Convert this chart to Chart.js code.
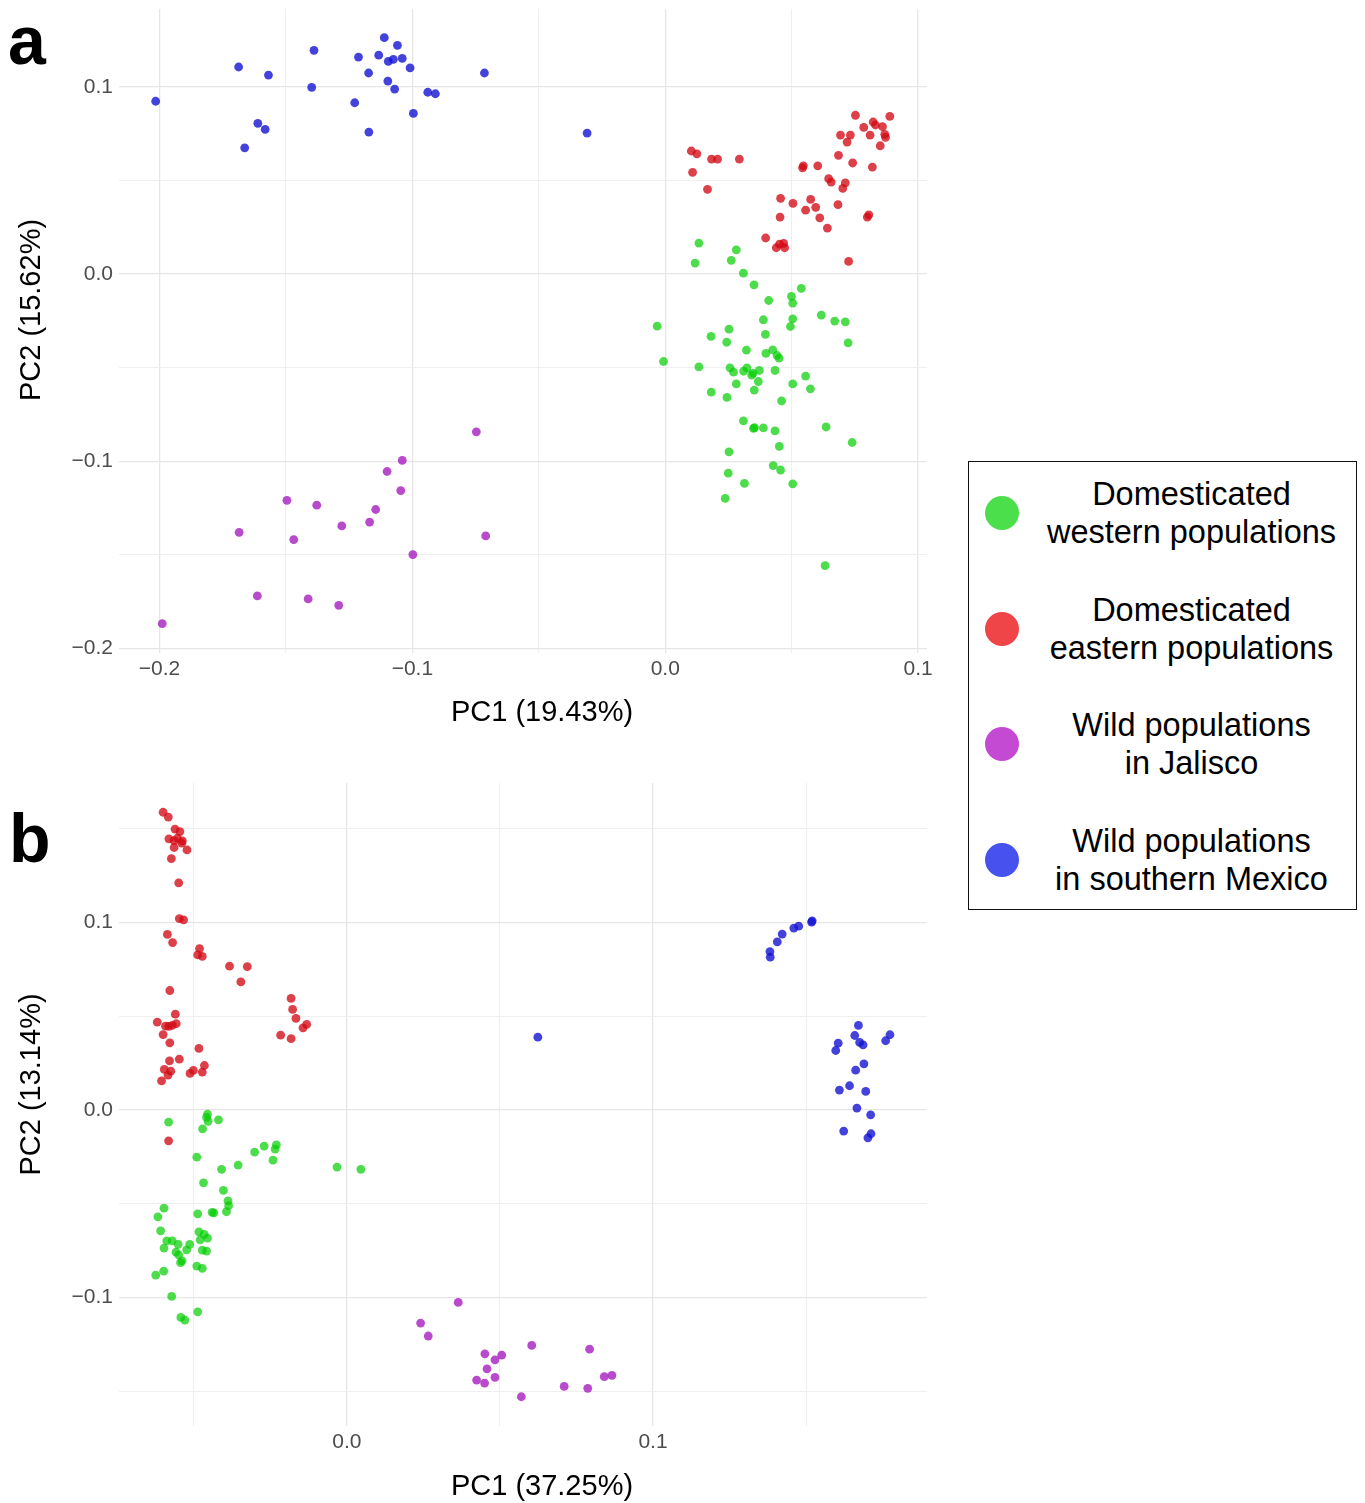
<!DOCTYPE html>
<html>
<head>
<meta charset="utf-8">
<title>PCA of populations</title>
<script src="https://cdn.jsdelivr.net/npm/chart.js@4.4.1/dist/chart.umd.min.js"></script>
<style>
    body { margin: 0; background: #fff; font-family: "Liberation Sans", Arial, sans-serif; }
    #page { position: relative; width: 1365px; height: 1503px; overflow: hidden; }
    canvas { position: absolute; left: 0; }
    .tag { position: absolute; font-weight: bold; font-size: 68px; line-height: 68px; color: #000; }
    #legend { position: absolute; left: 968px; top: 461px; width: 387px; height: 447px; border: 1.5px solid #111; }
    .key { position: absolute; left: 0; width: 100%; height: 80px; }
    .dot { position: absolute; left: 16px; top: 23px; width: 34px; height: 34px; border-radius: 50%; }
    .key-text { position: absolute; left: 56px; top: 2px; width: 333px; text-align: center; font-size: 32.5px; line-height: 38px; color: #000; }
</style>
</head>
<body>
<div id="page">
    <canvas id="pca-a" width="950" height="745" style="top:0"></canvas>
    <canvas id="pca-b" width="950" height="743" style="top:760px"></canvas>
    <div class="tag" style="left:8px; top:6px">a</div>
    <div class="tag" style="left:9px; top:804px">b</div>
    <div id="legend"></div>
</div>

<script>
// groups
const groups = [
    ["Domesticated", "western populations"],
    ["Domesticated", "eastern populations"],
    ["Wild populations", "in Jalisco"],
    ["Wild populations", "in southern Mexico"],
];
const pointColors = ["rgba(0,205,0,0.7)", "rgba(210,10,20,0.78)", "rgba(165,30,190,0.8)", "rgba(20,20,210,0.8)"];
const keyColors = ["#4be04b", "#ef4448", "#c44ad4", "#4651ee"];

// panel a: PC1 vs PC2, [x, y]
const aWestern = [
    [0.0133, 0.0166], [0.0281, 0.0130], [0.0118, 0.0059], [0.0261, 0.0073], [0.0309, 0.0005], [0.0351, -0.0057],
    [0.0538, -0.0076], [0.0409, -0.0141], [0.0499, -0.0119], [0.0504, -0.0155], [0.0617, -0.0219], [0.0670, -0.0251],
    [0.0712, -0.0255], [0.0388, -0.0244], [0.0504, -0.0239], [0.0495, -0.0280], [-0.0032, -0.0278], [0.0252, -0.0294],
    [0.0181, -0.0333], [0.0396, -0.0322], [0.0243, -0.0364], [0.0723, -0.0367], [0.0321, -0.0406], [0.0425, -0.0405],
    [0.0398, -0.0424], [0.0442, -0.0435], [0.0450, -0.0449], [-0.0007, -0.0467], [0.0133, -0.0496], [0.0256, -0.0501],
    [0.0270, -0.0524], [0.0310, -0.0519], [0.0323, -0.0501], [0.0342, -0.0540], [0.0347, -0.0529], [0.0372, -0.0515],
    [0.0434, -0.0515], [0.0555, -0.0545], [0.0281, -0.0587], [0.0368, -0.0574], [0.0504, -0.0587], [0.0574, -0.0613],
    [0.0182, -0.0631], [0.0352, -0.0620], [0.0244, -0.0659], [0.0460, -0.0678], [0.0309, -0.0784], [0.0349, -0.0824],
    [0.0353, -0.0820], [0.0388, -0.0822], [0.0434, -0.0838], [0.0636, -0.0817], [0.0739, -0.0900], [0.0451, -0.0921],
    [0.0252, -0.0950], [0.0427, -0.1023], [0.0456, -0.1047], [0.0249, -0.1064], [0.0313, -0.1118], [0.0504, -0.1121],
    [0.0237, -0.1199], [0.0632, -0.1558],
];
const aEastern = [
    [0.0752, 0.0849], [0.0888, 0.0843], [0.0822, 0.0813], [0.0831, 0.0797], [0.0859, 0.0788], [0.0785, 0.0784],
    [0.0693, 0.0743], [0.0732, 0.0743], [0.0810, 0.0743], [0.0868, 0.0747], [0.0871, 0.0731], [0.0719, 0.0706],
    [0.0850, 0.0686], [0.0103, 0.0658], [0.0125, 0.0643], [0.0183, 0.0615], [0.0207, 0.0615], [0.0293, 0.0615],
    [0.0685, 0.0635], [0.0741, 0.0594], [0.0546, 0.0579], [0.0543, 0.0568], [0.0603, 0.0579], [0.0819, 0.0572],
    [0.0108, 0.0544], [0.0167, 0.0453], [0.0646, 0.0510], [0.0656, 0.0492], [0.0712, 0.0488], [0.0702, 0.0458],
    [0.0456, 0.0405], [0.0505, 0.0378], [0.0575, 0.0399], [0.0555, 0.0342], [0.0595, 0.0357], [0.0683, 0.0371],
    [0.0454, 0.0305], [0.0611, 0.0301], [0.0805, 0.0317], [0.0799, 0.0305], [0.0641, 0.0246], [0.0397, 0.0193],
    [0.0439, 0.0141], [0.0452, 0.0160], [0.0468, 0.0164], [0.0472, 0.0141], [0.0725, 0.0068],
];
const aJalisco = [
    [-0.0747, -0.0843], [-0.1040, -0.0996], [-0.1100, -0.1055], [-0.1046, -0.1157], [-0.1496, -0.1209],
    [-0.1378, -0.1235], [-0.1145, -0.1258], [-0.1169, -0.1325], [-0.1279, -0.1346], [-0.1685, -0.1380],
    [-0.1469, -0.1419], [-0.0710, -0.1399], [-0.0998, -0.1499], [-0.1613, -0.1720], [-0.1412, -0.1736],
    [-0.1291, -0.1770], [-0.1989, -0.1868],
];
const aSouthern = [
    [-0.2015, 0.0924], [-0.1687, 0.1107], [-0.1663, 0.0675], [-0.1611, 0.0806], [-0.1582, 0.0774], [-0.1569, 0.1064],
    [-0.1398, 0.0998], [-0.1389, 0.1196], [-0.1228, 0.0916], [-0.1213, 0.1160], [-0.1173, 0.1075], [-0.1172, 0.0759],
    [-0.1133, 0.1170], [-0.1111, 0.1264], [-0.1095, 0.1137], [-0.1097, 0.1032], [-0.1075, 0.1148], [-0.1059, 0.1223],
    [-0.1070, 0.0989], [-0.1040, 0.1153], [-0.1009, 0.1102], [-0.0996, 0.0859], [-0.0939, 0.0972], [-0.0909, 0.0964],
    [-0.0715, 0.1075], [-0.0309, 0.0754],
];

// panel b: PC1 vs PC2 of the second analysis
const bWestern = [
    [-0.0455, -0.0021], [-0.0458, -0.0039], [-0.0453, -0.0060], [-0.0419, -0.0052], [-0.0582, -0.0064], [-0.0471, -0.0100],
    [-0.0230, -0.0185], [-0.0270, -0.0192], [-0.0234, -0.0208], [-0.0301, -0.0224], [-0.0241, -0.0267], [-0.0490, -0.0251],
    [-0.0355, -0.0293], [-0.0409, -0.0316], [-0.0032, -0.0304], [0.0046, -0.0316], [-0.0468, -0.0388], [-0.0403, -0.0428],
    [-0.0388, -0.0484], [-0.0386, -0.0510], [-0.0393, -0.0542], [-0.0434, -0.0548], [-0.0440, -0.0545], [-0.0487, -0.0553],
    [-0.0597, -0.0523], [-0.0617, -0.0569], [-0.0608, -0.0644], [-0.0483, -0.0649], [-0.0466, -0.0663], [-0.0479, -0.0692],
    [-0.0455, -0.0683], [-0.0588, -0.0697], [-0.0570, -0.0697], [-0.0597, -0.0736], [-0.0551, -0.0716], [-0.0513, -0.0716],
    [-0.0523, -0.0745], [-0.0558, -0.0757], [-0.0549, -0.0772], [-0.0472, -0.0747], [-0.0458, -0.0752], [-0.0538, -0.0804],
    [-0.0543, -0.0814], [-0.0490, -0.0832], [-0.0472, -0.0844], [-0.0598, -0.0859], [-0.0624, -0.0880], [-0.0572, -0.0994],
    [-0.0487, -0.1076], [-0.0542, -0.1106], [-0.0529, -0.1120],
];
const bEastern = [
    [-0.0600, 0.1589], [-0.0583, 0.1563], [-0.0561, 0.1499], [-0.0545, 0.1486], [-0.0581, 0.1447], [-0.0564, 0.1438],
    [-0.0553, 0.1451], [-0.0537, 0.1436], [-0.0539, 0.1424], [-0.0564, 0.1401], [-0.0522, 0.1388], [-0.0573, 0.1342],
    [-0.0549, 0.1212], [-0.0547, 0.1022], [-0.0533, 0.1015], [-0.0586, 0.0937], [-0.0569, 0.0894], [-0.0481, 0.0862],
    [-0.0487, 0.0828], [-0.0472, 0.0820], [-0.0383, 0.0768], [-0.0325, 0.0766], [-0.0346, 0.0684], [-0.0578, 0.0638],
    [-0.0182, 0.0596], [-0.0177, 0.0537], [-0.0166, 0.0489], [-0.0560, 0.0512], [-0.0619, 0.0469], [-0.0131, 0.0457],
    [-0.0143, 0.0439], [-0.0592, 0.0448], [-0.0581, 0.0447], [-0.0570, 0.0452], [-0.0557, 0.0461], [-0.0600, 0.0403],
    [-0.0216, 0.0400], [-0.0182, 0.0381], [-0.0578, 0.0359], [-0.0483, 0.0329], [-0.0547, 0.0272], [-0.0579, 0.0263],
    [-0.0465, 0.0238], [-0.0596, 0.0217], [-0.0575, 0.0208], [-0.0584, 0.0187], [-0.0501, 0.0212], [-0.0512, 0.0196],
    [-0.0472, 0.0203], [-0.0605, 0.0156], [-0.0582, -0.0164],
];
const bJalisco = [
    [0.0364, -0.1026], [0.0241, -0.1136], [0.0266, -0.1205], [0.0451, -0.1300], [0.0506, -0.1307], [0.0484, -0.1332],
    [0.0604, -0.1255], [0.0793, -0.1275], [0.0458, -0.1380], [0.0424, -0.1440], [0.0450, -0.1456], [0.0484, -0.1426],
    [0.0570, -0.1529], [0.0710, -0.1474], [0.0787, -0.1484], [0.0841, -0.1422], [0.0866, -0.1415],
];
const bSouthern = [
    [0.1520, 0.1010], [0.1518, 0.1003], [0.1476, 0.0981], [0.1460, 0.0971], [0.1422, 0.0939], [0.1406, 0.0898],
    [0.1382, 0.0846], [0.1383, 0.0816], [0.1671, 0.0452], [0.1659, 0.0398], [0.1605, 0.0357], [0.1774, 0.0402],
    [0.1760, 0.0370], [0.1675, 0.0361], [0.1686, 0.0348], [0.1597, 0.0318], [0.1689, 0.0247], [0.1662, 0.0213],
    [0.1642, 0.0130], [0.1609, 0.0107], [0.1695, 0.0100], [0.1666, 0.0011], [0.1711, -0.0025], [0.1623, -0.0112],
    [0.1712, -0.0126], [0.1702, -0.0148], [0.0624, 0.0389],
];

// axis ranges and grid breaks
const aXRange = [-0.216, 0.1035];
const aYRange = [-0.2025, 0.1417];
const bXRange = [-0.0744, 0.1895];
const bYRange = [-0.1685, 0.1745];
const aXTicks = [-0.2, -0.15, -0.1, -0.05, 0, 0.05, 0.1];
const aYTicks = [-0.2, -0.15, -0.1, -0.05, 0, 0.05, 0.1];
const bXTicks = [-0.05, 0, 0.05, 0.1, 0.15];
const bYTicks = [-0.15, -0.1, -0.05, 0, 0.05, 0.1, 0.15];

const FONT = '"Liberation Sans", Arial, sans-serif';

const isMajor = (v) => Math.abs(v * 10 - Math.round(v * 10)) < 1e-6;
const fmt = (v) => (isMajor(v) ? v.toFixed(1).replace("-", "\u2212") : "");

// axis titles sit a little off the panel centre, so draw them by hand
const axisTitles = {
    id: "axisTitles",
    afterDraw(chart, args, opts) {
        const { ctx, chartArea: area } = chart;
        ctx.save();
        ctx.fillStyle = "#000";
        ctx.font = `29px ${FONT}`;
        ctx.textAlign = "center";
        ctx.textBaseline = "middle";
        ctx.fillText(opts.x, (area.left + area.right) / 2 + opts.shiftX, opts.xTitleY);
        ctx.translate(opts.yTitleX, (area.top + area.bottom) / 2 + opts.shiftY);
        ctx.rotate(-Math.PI / 2);
        ctx.fillText(opts.y, 0, 0);
        ctx.restore();
    },
};

const gridColor = (c) => (isMajor(c.tick.value) ? "#e6e6e6" : "#efefef");
const gridWidth = (c) => (isMajor(c.tick.value) ? 1.3 : 1);

const makeScale = (range, ticks, isX, fit) => ({
    type: "linear",
    position: isX ? "bottom" : "left",
    min: range[0],
    max: range[1],
    afterBuildTicks: (s) => {
        s.ticks = ticks.map((v) => ({ value: v }));
    },
    afterFit: (s) => {
        // fixed axis box; labels never sit on the panel edge
        if (isX) {
            s.height = fit;
            s.paddingLeft = 0;
            s.paddingRight = 0;
        } else {
            s.width = fit;
            s.paddingTop = 0;
            s.paddingBottom = 0;
        }
    },
    border: { display: false },
    grid: { color: gridColor, lineWidth: gridWidth, drawTicks: false },
    ticks: {
        callback: (v) => fmt(v),
        color: "#4d4d4d",
        font: { family: FONT, size: 21 },
        padding: isX ? 4 : 6,
        autoSkip: false,
        maxRotation: 0,
    },
});

const makePanel = (id, sets, xRange, yRange, xTicks, yTicks, box, titles) => {
    new Chart(document.getElementById(id), {
        type: "scatter",
        data: {
            datasets: sets.map((pts, i) => ({
                label: groups[i].join(" "),
                data: pts.map((p) => ({ x: p[0], y: p[1] })),
                backgroundColor: pointColors[i],
                borderWidth: 0,
                pointRadius: 4.4,
            })),
        },
        options: {
            responsive: false,
            animation: false,
            devicePixelRatio: 1,
            layout: { padding: { left: 0, top: box.top, right: box.right, bottom: 0 } },
            scales: {
                x: makeScale(xRange, xTicks, true, box.xAxis),
                y: makeScale(yRange, yTicks, false, box.yAxis),
            },
            plugins: {
                legend: { display: false },
                tooltip: { enabled: false },
                axisTitles: titles,
            },
        },
        plugins: [axisTitles],
    });
};

makePanel("pca-a", [aWestern, aEastern, aJalisco, aSouthern], aXRange, aYRange, aXTicks, aYTicks,
    { top: 9, right: 23, xAxis: 92, yAxis: 119 },
    { x: "PC1 (19.43%)", y: "PC2 (15.62%)", shiftX: 19, xTitleY: 713, yTitleX: 32, shiftY: -21 });

makePanel("pca-b", [bWestern, bEastern, bJalisco, bSouthern], bXRange, bYRange, bXTicks, bYTicks,
    { top: 23, right: 23, xAxis: 77, yAxis: 119 },
    { x: "PC1 (37.25%)", y: "PC2 (13.14%)", shiftX: 19, xTitleY: 727, yTitleX: 32, shiftY: -20 });

// legend
const legend = document.getElementById("legend");
groups.forEach((lines, i) => {
    const key = document.createElement("div");
    key.className = "key";
    key.style.top = `${11 + i * 115.5}px`;
    key.innerHTML = `<div class="dot" style="background:${keyColors[i]}"></div>` +
        `<div class="key-text">${lines.join("<br>")}</div>`;
    legend.appendChild(key);
});
</script>
</body>
</html>
